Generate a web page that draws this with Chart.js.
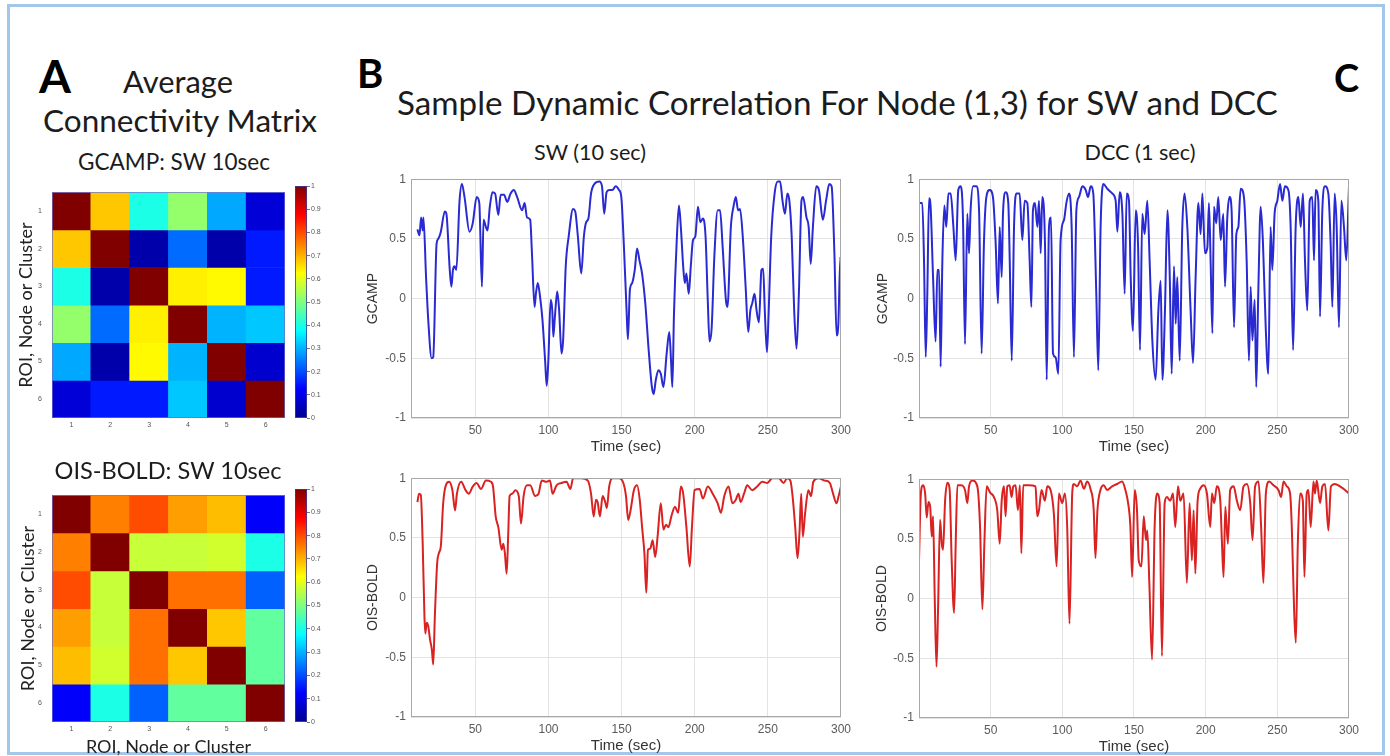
<!DOCTYPE html>
<html>
<head>
<meta charset="utf-8">
<script src="https://cdn.jsdelivr.net/npm/chart.js@4.4.1/dist/chart.umd.min.js"></script>
<style>
  html,body{margin:0;padding:0;background:#fff;}
  body{width:1390px;height:756px;overflow:hidden;position:relative;}
  canvas{position:absolute;}
  #frame{position:absolute;left:7px;top:4px;width:1372px;height:745px;border:3px solid #a3c7ea;}
</style>
</head>
<body>
<div id="frame"></div>
<canvas id="hmTop" width="285" height="262" style="left:10px;top:178px"></canvas>
<canvas id="cbTop" width="52" height="252" style="left:288px;top:178px"></canvas>
<canvas id="hmBot" width="285" height="275" style="left:10px;top:481px"></canvas>
<canvas id="cbBot" width="52" height="253" style="left:288px;top:481px"></canvas>
<canvas id="swTop" width="520" height="290"></canvas>
<canvas id="dccTop" width="520" height="290"></canvas>
<canvas id="swBot" width="520" height="290"></canvas>
<canvas id="dccBot" width="520" height="290"></canvas>
<script>
// ---------------- DATA ----------------
const matrixLabels = ['1','2','3','4','5','6'];
const gcampMatrix = [
  [1.00,0.68,0.40,0.52,0.29,0.08],
  [0.68,1.00,0.03,0.23,0.03,0.15],
  [0.40,0.03,1.00,0.64,0.63,0.15],
  [0.52,0.23,0.64,1.00,0.30,0.32],
  [0.29,0.03,0.63,0.30,1.00,0.07],
  [0.08,0.15,0.15,0.32,0.07,1.00]
];
const boldMatrix = [
  [1.00,0.75,0.80,0.72,0.69,0.12],
  [0.75,1.00,0.57,0.57,0.58,0.40],
  [0.80,0.57,1.00,0.765,0.765,0.22],
  [0.72,0.57,0.765,1.00,0.68,0.47],
  [0.69,0.58,0.765,0.68,1.00,0.47],
  [0.12,0.40,0.22,0.47,0.47,1.00]
];
const colorbarTicks = [0,0.1,0.2,0.3,0.4,0.5,0.6,0.7,0.8,0.9,1];
const timeTicks = [50,100,150,200,250,300];
const corrTicks = [-1,-0.5,0,0.5,1];

// [time (sec), correlation]
const swGcamp = [[10.4,0.58],[11.8,0.53],[12.9,0.68],[14,0.57],[14.5,0.68],[16.3,0.18],[17.8,-0.18],[20.1,-0.50],[21.2,-0.49],[23.5,0.46],[24.6,0.50],[26.4,0.56],[29.1,0.73],[30.2,0.71],[32.5,0.24],[33.6,0.10],[34.7,0.24],[35.8,0.27],[37,0.24],[39.2,0.82],[40.8,0.96],[42.6,0.85],[46,0.56],[48.2,0.63],[50.9,0.85],[52.7,0.80],[54.5,0.10],[55.6,0.66],[57.2,0.60],[58.3,0.57],[59.9,0.77],[61.7,0.89],[63.5,0.88],[65.7,0.70],[67.3,0.87],[69.6,0.87],[71.8,0.81],[74.1,0.88],[76.3,0.91],[78.6,0.85],[81.9,0.74],[83.7,0.80],[85.3,0.68],[87.5,0.66],[88.7,0.38],[90.5,-0.07],[91.4,0.04],[92.7,0.13],[94.3,0.01],[95.9,-0.18],[97.7,-0.52],[98.8,-0.73],[99.9,-0.52],[101.5,-0.01],[102.6,-0.10],[103.3,-0.32],[104.4,-0.15],[106,0.06],[107.3,-0.10],[108.9,-0.46],[110,-0.35],[111.8,0.27],[113.8,0.52],[116.8,0.75],[118.3,0.73],[120.1,0.52],[122.4,0.21],[124.2,0.52],[125.8,0.64],[127.3,0.67],[129.1,0.88],[131.4,0.96],[134.8,0.98],[136.6,0.94],[138.1,0.71],[139.7,0.89],[141.5,0.91],[143.7,0.91],[146,0.94],[148.2,0.91],[149.8,0.85],[151.6,0.43],[153.4,-0.10],[154.3,-0.34],[155.7,0.08],[157.2,0.13],[159,0.24],[160.6,0.42],[162.2,0.32],[164,0.21],[166.2,-0.04],[168.5,-0.43],[170.7,-0.74],[171.9,-0.80],[173.4,-0.68],[175.2,-0.60],[176.8,-0.63],[178.6,-0.74],[180.8,-0.46],[182.6,-0.28],[183.8,-0.52],[184.7,-0.74],[185.8,-0.13],[187.6,0.46],[189.2,0.78],[190.5,0.60],[192.1,0.27],[193.2,0.13],[194.3,0.21],[195.9,0.04],[197.3,0.27],[198.8,0.49],[200.4,0.52],[202.2,0.77],[203.8,0.64],[205.6,0.67],[207.4,0.52],[208.9,-0.01],[210.1,-0.36],[211.6,-0.24],[213.4,0.35],[215.7,0.74],[217.3,0.74],[219.1,0.43],[221.3,-0.01],[222.4,-0.07],[224.7,0.60],[226.5,0.77],[228.1,0.85],[229.6,0.74],[231,0.75],[233,0.49],[234.8,0.10],[236.6,-0.28],[238,-0.10],[239.3,-0.04],[240.9,0.04],[242.3,-0.10],[243.9,-0.20],[245.6,0.24],[246.8,0.25],[247.9,-0.10],[249.4,-0.45],[250.5,-0.13],[252.3,0.52],[254.6,0.88],[256.8,0.98],[258.4,0.98],[260,0.82],[261.7,0.71],[263.3,0.88],[264.7,0.82],[266.3,0.52],[268,-0.10],[269.6,-0.42],[271.2,0.04],[273,0.82],[274.1,0.85],[276.4,0.68],[277.9,0.60],[279.3,0.29],[280.8,0.60],[283.1,0.94],[284.9,0.91],[287.6,0.66],[289.8,0.82],[292,0.96],[293.6,0.94],[295.5,0.38],[297,-0.31],[298.2,-0.21],[299.6,0.35],[300,0.20]];

const dccGcamp = [[0,0.80],[2.3,0.80],[3.5,0.32],[4.7,-0.49],[5.8,0.04],[7,0.84],[8.1,0.77],[9.8,0.18],[11.6,-0.36],[12.8,0.24],[14,0.24],[15.1,-0.57],[16.3,0.32],[17.7,0.78],[19,0.60],[20.5,0.88],[22.1,0.88],[24,0.60],[25.6,0.32],[27.4,0.91],[29.1,0.94],[30.7,0.66],[32.1,-0.38],[33.7,0.71],[34.9,0.38],[36,0.74],[37.7,0.94],[40,0.94],[41.9,0.74],[43.7,-0.46],[45.3,0.46],[47,0.85],[49.3,0.91],[51.6,0.85],[53.5,0.46],[55.1,-0.04],[56.3,0.60],[57.7,0.18],[58.6,0.71],[60.5,0.89],[62.3,0.80],[63.3,0.32],[64.7,-0.52],[66.3,0.60],[67.9,0.88],[70.2,0.88],[72.1,0.49],[73.7,0.82],[75.6,0.80],[77.2,0.32],[78.4,-0.07],[79.5,0.74],[80.9,0.80],[82.6,0.60],[83.7,0.82],[84.9,0.38],[86,0.85],[87.9,0.46],[89.1,-0.68],[90.7,0.60],[92.1,0.68],[93.5,-0.46],[95.3,-0.49],[97.2,-0.63],[98.8,0.49],[101.2,0.66],[102.8,0.80],[104.7,0.88],[106.5,0.60],[108.1,-0.49],[109.8,0.74],[111.6,0.85],[114,0.94],[116.3,0.91],[117.9,0.85],[119.8,0.94],[121.6,0.88],[123.7,0.04],[125.1,-0.60],[126.7,0.60],[128.6,0.96],[131.4,0.92],[134.9,0.88],[137.2,0.82],[138.4,0.56],[140,0.89],[141.9,0.71],[143.5,0.04],[144.9,0.88],[146.5,0.82],[147.7,0.18],[149.3,-0.27],[151.2,0.74],[152.8,0.46],[154.2,-0.43],[155.8,0.71],[157.4,0.54],[159.3,0.82],[160.9,0.32],[162.8,-0.35],[165.1,-0.68],[167,-0.10],[168.6,0.15],[169.8,-0.68],[171.6,-0.10],[173.3,0.74],[174.9,0.21],[176.3,-0.63],[177.9,0.27],[179.1,-0.21],[180.2,0.18],[181.9,-0.52],[183.7,0.60],[185.3,0.88],[187.2,0.60],[189.5,-0.10],[191.2,-0.54],[193,0.18],[194.9,0.80],[196.5,0.54],[197.7,0.88],[199.5,0.38],[201.2,0.43],[202.3,0.80],[203.5,0.29],[204.7,-0.29],[205.8,0.77],[207.4,0.63],[208.8,0.85],[210.5,0.49],[212.3,0.71],[213.5,0.10],[215.1,0.68],[216.7,0.85],[218.1,0.74],[219.8,-0.24],[221.4,0.54],[222.8,0.60],[224.4,0.92],[226.7,0.85],[228.6,0.32],[230.2,-0.52],[231.4,0.10],[232.6,-0.35],[234.2,-0.01],[235.3,-0.74],[236.7,0.04],[238.4,0.77],[240,0.46],[241.9,-0.24],[243.7,-0.63],[245.3,0.60],[246.5,0.24],[248.1,0.71],[250,0.82],[251.9,0.96],[253.5,0.82],[255.3,0.94],[257.7,0.91],[259.3,0.60],[261,-0.43],[262.8,0.60],[264.7,0.85],[266.3,0.60],[267.9,0.88],[269.3,0.32],[270.9,-0.10],[272.6,0.82],[274.4,0.85],[275.6,0.32],[276.7,0.91],[278.6,0.82],[279.8,-0.15],[281.4,0.74],[283.3,0.94],[285.6,0.88],[287.2,0.46],[288.4,-0.07],[290,0.88],[291.4,0.60],[293,-0.24],[294.7,0.82],[296.5,0.60],[298.1,0.32],[300,0.94]];

const swBold = [[10.4,0.80],[11.5,0.87],[12.7,0.86],[14,0.45],[15.2,-0.16],[15.8,-0.30],[16.7,-0.21],[17.8,-0.24],[19,-0.35],[20.3,-0.44],[21.2,-0.56],[22.3,-0.16],[23.9,0.29],[25,0.37],[26.4,0.43],[28,0.79],[29.8,0.94],[32,0.97],[34.3,0.90],[36.1,0.73],[37.4,0.87],[40.3,0.97],[43.3,0.90],[45.5,0.87],[48.2,0.93],[50.9,0.96],[53.8,0.91],[57.2,0.98],[60.6,0.97],[62.1,0.93],[63.9,0.68],[65.7,0.59],[68,0.40],[69.1,0.45],[70.2,0.37],[71.4,0.20],[72.5,0.54],[73.4,0.85],[75.2,0.87],[77.4,0.90],[79.7,0.85],[81.2,0.62],[83,0.85],[85.3,0.94],[87.5,0.94],[90.9,0.85],[93.2,0.87],[95.4,0.98],[98.8,0.97],[101,0.98],[102.8,0.87],[105.5,0.94],[108.9,0.96],[112.3,0.97],[115,0.91],[116.8,1.0],[122.4,1.0],[126.9,0.98],[129.1,0.87],[130.9,0.68],[132.5,0.82],[133.6,0.80],[135.2,0.68],[137,0.85],[138.8,0.80],[139.9,0.75],[141.5,0.93],[143.7,1.0],[148.2,1.0],[151.2,0.96],[153,0.85],[154.5,0.65],[156.1,0.73],[158.4,0.90],[160.6,0.94],[162.4,0.82],[164,0.59],[165.6,0.37],[166.9,0.04],[168,0.40],[169.6,0.41],[171.2,0.48],[173,0.34],[174.6,0.51],[176.8,0.79],[178.6,0.57],[180.4,0.61],[182,0.59],[184.2,0.69],[186.5,0.76],[188.7,0.71],[190.5,0.93],[192.1,0.87],[194.3,0.59],[196.6,0.26],[198.1,0.59],[199.9,0.90],[203.3,0.91],[205.6,0.83],[208.9,0.93],[212.3,0.87],[215.7,0.79],[217.9,0.71],[220.2,0.85],[223.1,0.93],[225.8,0.79],[228.1,0.82],[229.9,0.87],[231.4,0.80],[233.7,0.87],[235.9,0.94],[239.3,0.90],[242.7,0.93],[246.2,0.97],[249.6,0.96],[253,1.0],[257.5,1.0],[260.8,0.96],[263.1,1.0],[265.4,0.98],[266.9,0.85],[268.7,0.59],[270.3,0.33],[271.6,0.54],[272.8,0.87],[273.9,0.51],[275.5,0.71],[277.7,0.90],[279.5,0.85],[281.1,0.97],[284.5,1.0],[289,0.98],[292.4,0.96],[294.6,0.87],[296.9,0.79],[298.4,0.85],[300,0.93]];

const dccBold = [[0,0.32],[1.3,0.88],[2.9,0.95],[4.3,0.88],[5.4,0.68],[6.6,0.81],[7.8,0.77],[8.9,0.52],[9.8,0.69],[11,-0.01],[12.2,-0.57],[13.3,-0.09],[14.7,0.66],[15.9,0.46],[16.8,0.41],[18.2,0.82],[19.8,0.97],[21.4,0.91],[22.8,0.32],[24.5,-0.12],[25.6,0.46],[26.8,0.95],[29.1,0.95],[32.1,0.91],[33.7,0.80],[34.9,0.94],[37.2,0.99],[40.7,0.94],[42.6,0.60],[44.2,-0.09],[45.6,0.46],[47.2,0.94],[49.5,0.89],[52.3,0.85],[54.6,0.74],[56.3,0.46],[57.7,0.82],[59.3,0.94],[60.4,0.69],[61.6,0.94],[63.2,0.95],[64.6,0.85],[65.8,0.94],[67.4,0.95],[69,0.74],[70.4,0.95],[71.4,0.38],[72.7,0.95],[76.7,0.95],[81.3,0.94],[82.5,0.69],[83.7,0.74],[85.5,0.91],[87.8,0.82],[89.5,0.94],[91.8,0.91],[94.1,0.71],[96,0.27],[97.6,0.88],[99.9,0.80],[101.8,0.88],[103.4,0.60],[105,-0.21],[106.9,0.88],[108,0.96],[110.4,0.94],[112.7,0.99],[115,0.92],[117.3,0.98],[119.6,0.92],[121.9,0.74],[123.1,0.34],[124.5,0.74],[126.6,0.91],[128.9,0.95],[131.2,0.91],[134.7,0.94],[138.2,0.96],[141.7,0.98],[144,0.91],[145.9,0.80],[147.5,0.60],[148.7,0.18],[150.5,0.91],[152.1,0.74],[153.3,0.32],[155.2,0.27],[156.8,0.69],[158.4,0.49],[159.3,0.57],[160.7,0.13],[162.6,-0.51],[164.4,0.60],[166.1,0.88],[167.9,0.80],[169.5,-0.48],[171.4,0.80],[173,0.85],[175.3,0.82],[177.2,0.88],[178.8,0.60],[180.7,0.94],[182.3,0.82],[184.6,0.88],[186.9,0.13],[188.8,0.80],[190.4,0.32],[191.6,0.74],[192.8,0.21],[194.4,0.82],[196.2,0.92],[198.6,0.95],[200.9,0.88],[203.2,0.60],[204.4,0.88],[206,0.80],[207.8,0.94],[210.2,0.82],[211.3,0.49],[212.5,0.18],[213.7,0.77],[215.5,0.46],[217.1,0.91],[219.5,0.94],[221.8,0.82],[224.1,0.74],[226.4,0.94],[228.8,0.96],[231.1,0.80],[232.7,0.49],[234.5,0.94],[236.9,0.98],[238.7,0.60],[240.3,0.13],[242,0.88],[244.3,0.98],[247.3,0.95],[250.8,0.91],[252.6,0.85],[254.3,0.98],[256.6,0.94],[258.9,0.88],[260.1,0.60],[261.7,-0.09],[262.9,-0.37],[264.3,0.46],[265.9,0.88],[267.8,0.82],[268.9,0.18],[270.5,0.88],[271.7,0.91],[273.3,0.60],[275.2,0.98],[276.3,0.88],[277.5,0.99],[279.8,0.80],[281.4,0.94],[283.3,0.96],[285.6,0.57],[287.4,0.94],[290.2,0.96],[293.7,0.94],[297.2,0.91],[300,0.88]];

// ---------------- HELPERS ----------------
const jetStops = [[0,[0,0,143]],[0.125,[0,0,255]],[0.375,[0,255,255]],[0.625,[255,255,0]],[0.875,[255,0,0]],[1,[128,0,0]]];
function jet(v){
  v = Math.max(0, Math.min(1, v));
  for (let i = 1; i < jetStops.length; i++) {
    const [p1, c1] = jetStops[i-1], [p2, c2] = jetStops[i];
    if (v <= p2) {
      const t = (v - p1) / (p2 - p1);
      const c = c1.map((a, k) => Math.round(a + (c2[k] - a) * t));
      return `rgb(${c[0]},${c[1]},${c[2]})`;
    }
  }
  return 'rgb(128,0,0)';
}

const boxPlugin = {
  id: 'box',
  afterDraw(chart, args, opts) {
    const {ctx, chartArea: {left, top, right, bottom}} = chart;
    ctx.save();
    ctx.strokeStyle = opts.color || '#999';
    ctx.lineWidth = 1;
    ctx.strokeRect(Math.round(left) + 0.5, Math.round(top) + 0.5, Math.round(right - left) - 1, Math.round(bottom - top) - 1);
    ctx.restore();
  }
};

const tickFont = {family: "'Liberation Sans', Arial, sans-serif", size: 12};

function lineChart(id, series, color, yTitle, xMin, g) {
  const cv = document.getElementById(id);
  const cl = g.left - 75, ct = g.top - 12, cw = cv.width, ch = cv.height;
  cv.style.left = cl + 'px'; cv.style.top = ct + 'px';
  const yLh = 14 * 1.2, xLh = 15 * 1.2;
  const yScaleLeft = g.yTitleX - yLh / 2;
  const xScaleBottom = g.xTitleY + xLh / 2 + 3;
  new Chart(cv, {
    type: 'line',
    data: {datasets: [{
      data: series.map(p => ({x: p[0], y: p[1]})),
      borderColor: color, borderWidth: 2, pointRadius: 0,
      cubicInterpolationMode: 'monotone', fill: false
    }]},
    options: {
      responsive: false, animation: false, events: [], devicePixelRatio: 1,
      layout: {padding: {left: yScaleLeft - cl, top: g.top - ct, right: cl + cw - g.right, bottom: ct + ch - xScaleBottom}},
      plugins: {legend: {display: false}, tooltip: {enabled: false}, box: {color: '#a8a8a8'}},
      scales: {
        x: {
          type: 'linear', min: xMin, max: 300,
          afterBuildTicks: s => { s.ticks = timeTicks.map(v => ({value: v})); },
          afterFit: s => { s.height = xScaleBottom - g.bottom; },
          grid: {color: '#e3e3e3', drawTicks: false}, border: {display: false},
          ticks: {padding: 5, color: '#5a5a5a', font: tickFont, maxRotation: 0, autoSkip: false},
          title: {display: true, text: 'Time (sec)', color: '#333', font: {family: tickFont.family, size: 15}, padding: {top: 0, bottom: 3}}
        },
        y: {
          min: -1, max: 1,
          afterBuildTicks: s => { s.ticks = corrTicks.map(v => ({value: v})); },
          afterFit: s => { s.width = g.left - yScaleLeft; },
          grid: {color: '#e3e3e3', drawTicks: false}, border: {display: false},
          ticks: {padding: 5, color: '#5a5a5a', font: tickFont, callback: v => String(v)},
          title: {display: true, text: yTitle, color: '#333', font: {family: tickFont.family, size: 14}, padding: 0}
        }
      }
    },
    plugins: [boxPlugin]
  });
}

const roiFont = {family: "Lato, 'Open Sans', sans-serif", size: 18, lineHeight: 1.2};
const smallFont = {family: "'Liberation Sans', Arial, sans-serif", size: 7};

function heatmap(id, matrix, g, xTitle) {
  const cv = document.getElementById(id);
  const cl = parseFloat(cv.style.left), ct = parseFloat(cv.style.top);
  const yScaleLeft = g.yTitleX - roiFont.size * 1.2 / 2;
  const xScaleBottom = ct + cv.height;
  new Chart(cv, {
    type: 'bar',
    data: {
      labels: matrixLabels,
      datasets: matrix.map((row, r) => ({
        data: row.map(() => [r, r + 1]),
        backgroundColor: row.map(v => jet(v)),
        borderWidth: 0, barPercentage: 1, categoryPercentage: 1, grouped: false
      }))
    },
    options: {
      responsive: false, animation: false, events: [], devicePixelRatio: 1,
      layout: {padding: {left: yScaleLeft - cl, top: g.top - ct, right: cl + cv.width - g.right, bottom: 0}},
      plugins: {legend: {display: false}, tooltip: {enabled: false}, box: {color: 'rgba(110,110,200,0.7)'}},
      scales: {
        x: {
          afterFit: s => { s.height = xScaleBottom - g.bottom; },
          grid: {display: false, drawTicks: false}, border: {display: false},
          ticks: {padding: 3, color: '#555', font: smallFont},
          title: xTitle ? {display: true, text: xTitle, color: '#222', font: {family: roiFont.family, size: 18, lineHeight: 1}, padding: 0} : {display: false}
        },
        y: {
          type: 'linear', min: 0, max: 6, reverse: true,
          afterBuildTicks: s => { s.ticks = matrixLabels.map((l, i) => ({value: i + 0.5})); },
          afterFit: s => { s.width = g.left - yScaleLeft; },
          grid: {display: false, drawTicks: false}, border: {display: false},
          ticks: {padding: 10, color: '#555', font: smallFont, callback: (v, i) => matrixLabels[i]},
          title: {display: true, text: 'ROI, Node or Cluster', color: '#222', font: roiFont, padding: 0}
        }
      }
    },
    plugins: [boxPlugin]
  });
}

function colorbar(id, g) {
  const cv = document.getElementById(id);
  const cl = parseFloat(cv.style.left), ct = parseFloat(cv.style.top);
  new Chart(cv, {
    type: 'bar',
    data: {labels: ['scale'], datasets: [{
      data: [[0, 1]], borderWidth: 0, barPercentage: 1, categoryPercentage: 1,
      backgroundColor: (c) => {
        const {ctx, chartArea} = c.chart;
        if (!chartArea) return 'rgb(0,0,255)';
        const gr = ctx.createLinearGradient(0, chartArea.bottom, 0, chartArea.top);
        jetStops.forEach(([p, col]) => gr.addColorStop(p, `rgb(${col[0]},${col[1]},${col[2]})`));
        return gr;
      }
    }]},
    options: {
      responsive: false, animation: false, events: [], devicePixelRatio: 1,
      layout: {padding: {left: g.left - cl, top: g.top - ct, right: 0, bottom: ct + cv.height - g.bottom}},
      plugins: {legend: {display: false}, tooltip: {enabled: false}, box: {color: 'rgba(60,60,150,0.8)'}},
      scales: {
        x: {display: false},
        y: {
          position: 'right', min: 0, max: 1,
          afterBuildTicks: s => { s.ticks = colorbarTicks.map(v => ({value: v})); },
          afterFit: s => { s.width = cl + cv.width - g.right; },
          grid: {drawOnChartArea: false, tickLength: 3, color: '#777'}, border: {display: false},
          ticks: {padding: 1, color: '#555', font: smallFont, callback: v => String(Math.round(v * 10) / 10)}
        }
      }
    },
    plugins: [boxPlugin]
  });
}

// ---------------- CHARTS ----------------
heatmap('hmTop', gcampMatrix, {left: 52, right: 285, top: 186, bottom: 418, yTitleX: 26}, null);
heatmap('hmBot', boldMatrix, {left: 52, right: 285, top: 489, bottom: 722, yTitleX: 28}, 'ROI, Node or Cluster');
colorbar('cbTop', {left: 295, right: 307, top: 186, bottom: 418});
colorbar('cbBot', {left: 295, right: 307, top: 489, bottom: 722});

lineChart('swTop', swGcamp, '#2a2ad2', 'GCAMP', 6, {left: 411, right: 847, top: 179, bottom: 418, yTitleX: 373, xTitleY: 447});
lineChart('dccTop', dccGcamp, '#2a2ad2', 'GCAMP', 0, {left: 919, right: 1350, top: 179, bottom: 418, yTitleX: 883, xTitleY: 447});
lineChart('swBot', swBold, '#d92222', 'OIS-BOLD', 6, {left: 411, right: 847, top: 478, bottom: 717, yTitleX: 373, xTitleY: 746});
lineChart('dccBot', dccBold, '#d92222', 'OIS-BOLD', 0, {left: 919, right: 1351, top: 479, bottom: 718, yTitleX: 882, xTitleY: 747});

// ---------------- HEADINGS (real text) ----------------
function placeText(txt, o) {
  const el = document.createElement('div');
  el.textContent = txt;
  el.style.cssText = `position:absolute;white-space:nowrap;font-family:Lato,'Open Sans',sans-serif;font-weight:${o.weight || 400};color:${o.color || '#1c1c1c'};line-height:1.2;left:0;top:0;`;
  let size = o.size || 100;
  el.style.fontSize = size + 'px';
  document.body.appendChild(el);
  if (o.width && !o.size) {
    size = 100 * o.width / el.getBoundingClientRect().width;
    el.style.fontSize = size + 'px';
  }
  const probe = document.createElement('span');
  probe.style.cssText = 'display:inline-block;width:0;height:0;vertical-align:baseline';
  el.appendChild(probe);
  const base = probe.offsetTop;
  const w = el.getBoundingClientRect().width;
  const left = (o.cx !== undefined) ? o.cx - w / 2 : o.left;
  el.style.left = left + 'px';
  el.style.top = (o.baseline - base) + 'px';
}
placeText('A', {left: 39, baseline: 93, size: 46, weight: 700, color: '#000'});
placeText('Average', {cx: 178, baseline: 93, width: 110});
placeText('Connectivity Matrix', {cx: 180, baseline: 132, width: 274});
placeText('GCAMP: SW 10sec', {cx: 174, baseline: 170, width: 192});
placeText('OIS-BOLD: SW 10sec', {cx: 168, baseline: 479, width: 227});
placeText('B', {left: 357, baseline: 88, size: 40, weight: 700, color: '#000'});
placeText('Sample Dynamic Correlation For Node (1,3) for SW and DCC', {left: 397, baseline: 115, width: 881});
placeText('C', {left: 1334, baseline: 92, size: 38, weight: 700, color: '#000'});
placeText('SW (10 sec)', {cx: 590, baseline: 160, width: 112});
placeText('DCC (1 sec)', {cx: 1140, baseline: 160, width: 111});
</script>
</body>
</html>
